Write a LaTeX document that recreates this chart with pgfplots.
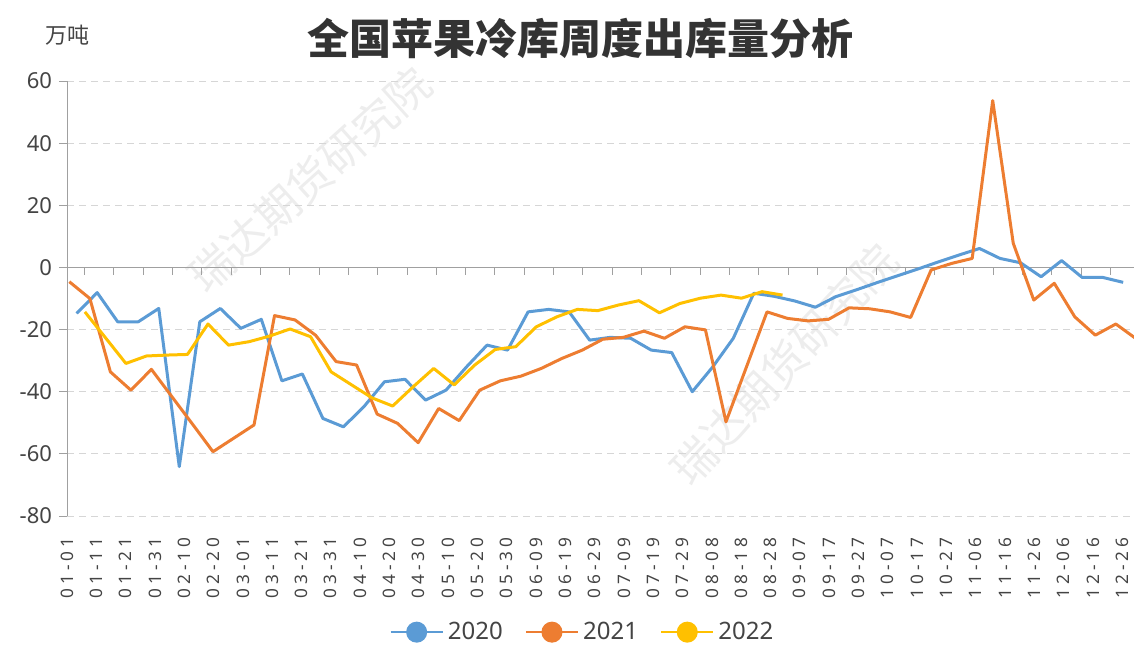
\documentclass[border=0pt]{standalone}
\usepackage{pgfplots}
\pgfplotsset{compat=1.18}
\usepackage{fontspec}
\setmainfont{Noto Sans}
\newfontfamily\cjk{Noto Sans CJK SC}
\newfontfamily\spaced[LetterSpace=24]{Noto Sans}
\definecolor{c20}{HTML}{5B9BD5}
\definecolor{c21}{HTML}{ED7D31}
\definecolor{c22}{HTML}{FFC000}
\definecolor{txt}{HTML}{444444}
\definecolor{ttl}{HTML}{333333}
\definecolor{gridc}{HTML}{D6D6D6}
\definecolor{axc}{HTML}{A0A0A0}
\begin{document}
\begin{tikzpicture}
\useasboundingbox (0,0) rectangle (567pt,322pt);
\node[text=black!7, inner sep=0pt, font=\cjk\fontsize{22pt}{22pt}\selectfont, rotate=42] at (155pt,232pt) {瑞达期货研究院};
\node[text=black!7, inner sep=0pt, font=\cjk\fontsize{22pt}{22pt}\selectfont, rotate=47] at (392pt,140pt) {瑞达期货研究院};
\node[font=\cjk\bfseries\fontsize{21pt}{21pt}\selectfont, text=ttl] at (290pt,303pt) {全国苹果冷库周度出库量分析};
\node[font=\cjk\fontsize{11pt}{11pt}\selectfont, text=txt] at (33.5pt,304.5pt) {万吨};
\begin{axis}[
  at={(33.5pt,64pt)}, anchor=south west, scale only axis,
  width=533.5pt, height=217.5pt,
  xmin=0, xmax=364, ymin=-80, ymax=60,
  axis y line*=left, axis x line*=bottom,
  x axis line style={draw=none},
  y axis line style={draw=axc, line width=0.5pt, -},
  ytick={-80,-60,-40,-20,0,20,40,60},
  yticklabels={-80,-60,-40,-20,0,20,40,60},
  ymajorgrids,
  grid style={gridc, dash pattern=on 3.5pt off 2.5pt, line width=0.5pt},
  xtick={0,10,...,360},
  xticklabels={01-01,01-11,01-21,01-31,02-10,02-20,03-01,03-11,03-21,03-31,04-10,04-20,04-30,05-10,05-20,05-30,06-09,06-19,06-29,07-09,07-19,07-29,08-08,08-18,08-28,09-07,09-17,09-27,10-07,10-17,10-27,11-06,11-16,11-26,12-06,12-16,12-26},
  xticklabel style={yshift=-6.5pt, rotate=90, anchor=east, inner sep=0pt, font=\spaced\fontsize{8.6pt}{8.6pt}\selectfont, text=txt},
  yticklabel style={font=\fontsize{11pt}{11pt}\selectfont, text=txt},
  major x tick style={draw=none},
  major y tick style={draw=axc, line width=0.5pt},
  tick align=outside, major tick length=4pt,
  /pgf/number format/assume math mode=true,
  legend columns=3,
  legend style={draw=none, fill=none, at={(0.484,-0.267)}, anchor=center,
    font=\fontsize{12pt}{12pt}\selectfont, text=txt,
    /tikz/every even column/.append style={column sep=9pt}},
  legend image code/.code={\draw[#1, line width=1.2pt] (0pt,0pt) -- (26pt,0pt); \fill[#1] (13pt,0pt) circle (4.5pt);},
]
\draw[axc, line width=0.7pt] (axis cs:0,0) -- (axis cs:364,0);
\pgfplotsinvokeforeach{6,16,...,356}{\draw[axc, line width=0.5pt] (axis cs:#1,0) -- ++(0pt,-4pt);}
\addplot[c20, line width=1.5pt, line join=round] coordinates {
(3.3,-14.8)(10.3,-8.1)(17.3,-17.5)(24.3,-17.5)(31.3,-13.2)(38.3,-64.1)(45.3,-17.5)(52.3,-13.2)(59.3,-19.6)(66.3,-16.7)(73.3,-36.5)(80.3,-34.3)(87.3,-48.6)(94.3,-51.3)(101.3,-44.8)(108.3,-36.8)(115.3,-36)(122.3,-42.7)(129.3,-39.5)(136.3,-32)(143.3,-25)(150.3,-26.6)(157.3,-14.3)(164.3,-13.5)(171.3,-14.3)(178.3,-23.4)(185.3,-22.5)(192.3,-22.8)(199.3,-26.6)(206.3,-27.4)(213.3,-40)(220.3,-32)(227.3,-22.8)(234.3,-8.3)(241.3,-9.3)(248.3,-10.8)(255.3,-12.8)(262.3,-9.4)(269.3,-7.2)(276.3,-4.9)(283.3,-2.7)(290.3,-0.5)(297.3,1.8)(304.3,4.0)(311.3,6.1)(318.3,2.9)(325.3,1.5)(332.3,-3)(339.3,2.2)(346.3,-3.2)(353.3,-3.2)(360.3,-4.8)
};
\addlegendentry{2020}
\addplot[c21, line width=1.5pt, line join=round] coordinates {
(0.8,-4.6)(7.8,-10)(14.8,-33.6)(21.8,-39.5)(28.8,-32.8)(35.8,-41.6)(42.8,-50.4)(49.8,-59.3)(56.8,-55)(63.8,-50.7)(70.8,-15.5)(77.8,-16.9)(84.8,-21.8)(91.8,-30.3)(98.8,-31.4)(105.8,-47.2)(112.8,-50.2)(119.8,-56.4)(126.8,-45.4)(133.8,-49.3)(140.8,-39.5)(147.8,-36.5)(154.8,-35)(161.8,-32.5)(168.8,-29.3)(175.8,-26.6)(182.8,-23.1)(189.8,-22.5)(196.8,-20.5)(203.8,-22.8)(210.8,-19.1)(217.8,-20.1)(224.8,-49.7)(231.8,-32)(238.8,-14.3)(245.8,-16.4)(252.8,-17.2)(259.8,-16.7)(266.8,-13)(273.8,-13.3)(280.8,-14.3)(287.8,-16.1)(294.8,-0.8)(301.8,1.3)(308.8,2.9)(315.8,53.7)(322.8,7.8)(329.8,-10.5)(336.8,-5.1)(343.8,-15.9)(350.8,-21.8)(357.8,-18.2)(364.8,-23)
};
\addlegendentry{2021}
\addplot[c22, line width=1.5pt, line join=round] coordinates {
(6.1,-14.3)(13.1,-22.6)(20.1,-30.9)(27.1,-28.5)(34.1,-28.2)(41.1,-28)(48.1,-18.2)(55.1,-25)(62.1,-23.9)(69.1,-22.1)(76.1,-19.8)(83.1,-22.3)(90.1,-33.6)(97.1,-37.8)(104.1,-42)(111.1,-44.6)(118.1,-38.4)(125.1,-32.5)(132.1,-37.8)(139.1,-31.4)(146.1,-26.4)(153.1,-25.5)(160.1,-19.1)(167.1,-15.9)(174.1,-13.5)(181.1,-13.9)(188.1,-12.1)(195.1,-10.7)(202.1,-14.6)(209.1,-11.6)(216.1,-9.9)(223.1,-8.9)(230.1,-9.9)(237.1,-7.8)(244.1,-8.9)
};
\addlegendentry{2022}
\end{axis}
\end{tikzpicture}
\end{document}
